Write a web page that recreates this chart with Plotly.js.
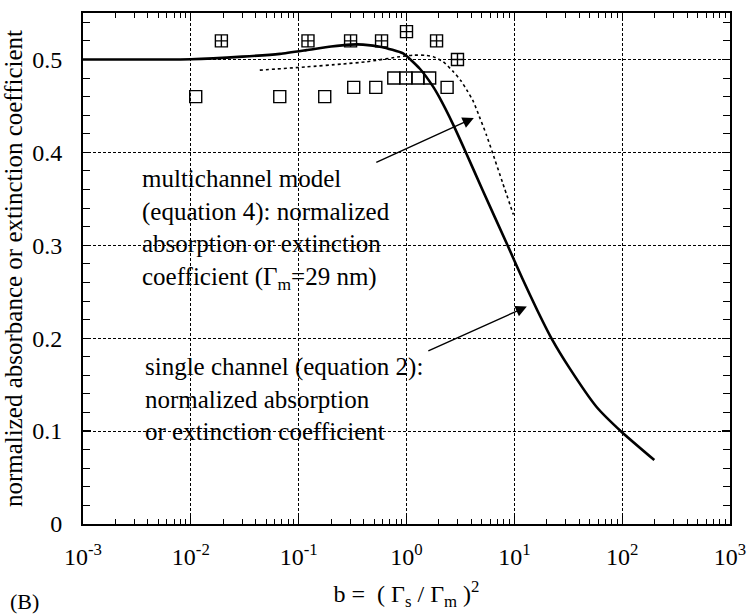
<!DOCTYPE html>
<html>
<head>
<meta charset="utf-8">
<script src="https://cdn.plot.ly/plotly-3.0.1.min.js"></script>
<style>
html,body{margin:0;padding:0;background:#fff;}
#wrap{position:relative;width:748px;height:615px;}
#chart{width:748px;height:615px;}
#blabel{position:absolute;left:10px;top:590px;font-family:'Liberation Serif';font-size:22px;color:#000;line-height:24px;}
</style>
</head>
<body>
<div id="wrap">
<div id="chart"></div>
<div id="blabel">(B)</div>
</div>
<script>
// single-channel curve (solid)
const solidX = [0.001, 0.003, 0.01, 0.03, 0.067, 0.118, 0.2, 0.302, 0.395, 0.586, 0.93, 1.33, 1.77, 2.02, 2.69, 3.52, 5.06, 8.63, 11.9, 16.4, 22.1, 32.4, 57.7, 98.4, 198.6];
const solidY = [0.5, 0.5, 0.5003, 0.503, 0.506, 0.510, 0.514, 0.516, 0.516, 0.5135, 0.5065, 0.490, 0.4705, 0.4591, 0.4307, 0.401, 0.3597, 0.3003, 0.2639, 0.2295, 0.1998, 0.168, 0.1262, 0.0993, 0.0688];
// multichannel curve (dotted)
const dotX = [0.0436, 0.118, 0.25, 0.426, 0.867, 1.15, 1.5, 1.77, 2.19, 2.71, 3.2, 3.7, 4.18, 4.74, 5.5, 6.3, 7.8, 9.8];
const dotY = [0.4885, 0.492, 0.495, 0.4975, 0.503, 0.5046, 0.5045, 0.503, 0.4975, 0.487, 0.477, 0.4654, 0.4544, 0.4385, 0.419, 0.399, 0.367, 0.333];
// boxed-plus markers
const plusX = [0.0192, 0.122, 0.303, 0.587, 1.0, 1.9, 2.97];
const plusY = [0.52, 0.52, 0.52, 0.52, 0.53, 0.52, 0.50];
// open square markers
const sqX = [0.0111, 0.0668, 0.1745, 0.324, 0.519, 0.762, 0.986, 1.28, 1.64, 2.38];
const sqY = [0.46, 0.46, 0.46, 0.47, 0.47, 0.48, 0.48, 0.48, 0.48, 0.47];
// tick labels
const xTickVals = [0.001, 0.01, 0.1, 1, 10, 100, 1000];
const xTickText = ['10<sup>-3</sup>', '10<sup>-2</sup>', '10<sup>-1</sup>', '10<sup>0</sup>', '10<sup>1</sup>', '10<sup>2</sup>', '10<sup>3</sup>'];
const yTickVals = [0, 0.1, 0.2, 0.3, 0.4, 0.5];
const yTickText = ['0', '0.1', '0.2', '0.3', '0.4', '0.5'];

const FONT = 'Liberation Serif';
const minorX = [];
for (let e = -3; e < 3; e++) for (let d = 2; d <= 9; d++) minorX.push(d * Math.pow(10, e));

const traces = [
  {x: solidX, y: solidY, type: 'scatter', mode: 'lines', line: {color: '#000', width: 2.6, shape: 'spline', smoothing: 0.5}},
  {x: dotX, y: dotY, type: 'scatter', mode: 'lines', line: {color: '#000', width: 1.6, dash: '3px,3px', shape: 'spline', smoothing: 0.5}},
  {x: plusX, y: plusY, type: 'scatter', mode: 'markers', marker: {symbol: 'square-cross-open', size: 12, color: '#000', line: {width: 1.4, color: '#000'}}},
  {x: sqX, y: sqY, type: 'scatter', mode: 'markers', marker: {symbol: 'square-open', size: 12, color: '#000', line: {width: 1.4, color: '#000'}}}
];

const layout = {
  width: 748, height: 615,
  margin: {l: 83, r: 18, t: 13, b: 91},
  paper_bgcolor: '#fff', plot_bgcolor: '#fff',
  showlegend: false,
  font: {family: FONT, size: 24, color: '#000'},
  xaxis: {
    type: 'log', range: [-3, 3],
    tickmode: 'array', tickvals: xTickVals, ticktext: xTickText,
    ticks: 'inside', ticklen: 8, tickwidth: 1.2, tickcolor: '#000',
    ticklabelstandoff: 10,
    minor: {tickmode: 'array', tickvals: minorX, ticks: 'inside', ticklen: 5, tickwidth: 1, tickcolor: '#000', showgrid: false},
    showline: true, linecolor: '#000', linewidth: 2, mirror: 'ticks',
    showgrid: true, gridcolor: '#000', gridwidth: 1, griddash: '3px,2px',
    zeroline: false,
    tickfont: {size: 24},
    title: {text: 'b =  ( Γ<sub>s</sub> / Γ<sub>m</sub> )<sup>2</sup>', font: {size: 24}, standoff: 16},
    automargin: false
  },
  yaxis: {
    range: [0, 0.55],
    tickmode: 'array', tickvals: yTickVals, ticktext: yTickText,
    ticks: 'inside', ticklen: 8, tickwidth: 1.2, tickcolor: '#000',
    ticklabelstandoff: 14,
    minor: {dtick: 0.02, ticks: 'inside', ticklen: 7, tickwidth: 1, tickcolor: '#000', showgrid: false},
    showline: true, linecolor: '#000', linewidth: 2, mirror: 'ticks',
    showgrid: true, gridcolor: '#000', gridwidth: 1, griddash: '3px,2px',
    zeroline: false,
    tickfont: {size: 24},
    title: {text: 'normalized absorbance or extinction coefficient', font: {size: 25}, standoff: 6},
    automargin: false
  },
  annotations: [
    {xref: 'paper', yref: 'paper', x: 0.088, y: 0.576, xanchor: 'left', yanchor: 'middle', align: 'left', showarrow: false,
     text: 'multichannel model<br>(equation 4): normalized<br>absorption or extinction<br>coefficient (Γ<sub>m</sub>=29 nm)',
     font: {size: 25}},
    {xref: 'paper', yref: 'paper', x: 0.093, y: 0.245, xanchor: 'left', yanchor: 'middle', align: 'left', showarrow: false,
     text: 'single channel (equation 2):<br>normalized absorption<br>or extinction coefficient',
     font: {size: 25}},
    {x: 0.624, y: 0.437, xref: 'x', yref: 'y', text: '', showarrow: true, ax: -99, ay: 45,
     arrowhead: 2, arrowsize: 1.6, arrowwidth: 1.4, arrowcolor: '#000'},
    {x: 1.116, y: 0.234, xref: 'x', yref: 'y', text: '', showarrow: true, ax: -100, ay: 45,
     arrowhead: 2, arrowsize: 1.6, arrowwidth: 1.4, arrowcolor: '#000'}
  ]
};

function draw() {
  return Plotly.newPlot('chart', traces, layout, {displayModeBar: false, staticPlot: true}).then(function (gd) {
    const t = document.querySelector('#chart .ytick text');
    if (t) getComputedStyle(t).fontFamily;
    return gd;
  });
}
if (document.fonts && document.fonts.load) {
  document.fonts.load('24px "Liberation Serif"').then(draw, draw);
} else {
  draw();
}
</script>
</body>
</html>
